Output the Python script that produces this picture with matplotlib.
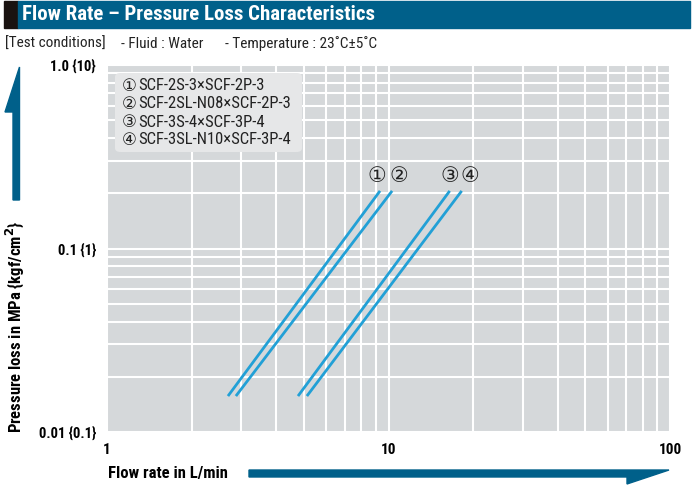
import numpy as np
import matplotlib
matplotlib.use('Agg')
import matplotlib.pyplot as plt
from matplotlib.patches import Rectangle, Polygon, FancyBboxPatch
from matplotlib.ticker import LogLocator, NullFormatter

# series: end points (flow L/min, pressure loss MPa)
labels = ['①', '②', '③', '④']
names = ['SCF-2S-3×SCF-2P-3', 'SCF-2SL-N08×SCF-2P-3',
         'SCF-3S-4×SCF-3P-4', 'SCF-3SL-N10×SCF-3P-4']
flow_lo = [2.69, 2.87, 4.77, 5.13]
flow_hi = [9.33, 10.3, 16.5, 18.2]
dp_lo = [0.0157, 0.0157, 0.0157, 0.0157]
dp_hi = [0.206, 0.206, 0.206, 0.206]

xticks = [1, 10, 100]
xticklabels = ['1', '10', '100']
yticks = [0.01, 0.1, 1.0]
yticklabels = ['0.01 {0.1}', '0.1 {1}', '1.0 {10}']

# offsets (points) of the circled numbers from the line ends
lab_dx = [-2, 5, 0, 6]

teal = '#00608a'
blue = '#22a0d6'
fam = ['Roboto Condensed', 'DejaVu Sans']
plt.rcParams['font.family'] = fam

fig = plt.figure(figsize=(6.96, 4.86), dpi=100)
W, H = 696, 486

def px(x, y):
    return x / W, 1 - y / H

# header bar
fig.patches.append(Rectangle(px(4, 28), 14 / W, 27 / H, transform=fig.transFigure,
                             color='#1a1311', zorder=0))
fig.patches.append(Rectangle(px(18, 28), 672 / W, 27 / H, transform=fig.transFigure,
                             color=teal, zorder=0))
fig.text(*px(22, 15), 'Flow Rate – Pressure Loss Characteristics', color='white',
         fontsize=15, fontweight='bold', va='center', ha='left')
for x0, s in [(5, '[Test conditions]'), (121, '- Fluid : Water'),
              (225, '- Temperature : 23˚C±5˚C')]:
    fig.text(*px(x0, 44), s, fontsize=11, va='center', ha='left', color='#222222')

ax = fig.add_axes([107 / W, 1 - 432 / H, 563 / W, 367 / H])
ax.set_facecolor('#d5d8da')
ax.set_xscale('log')
ax.set_yscale('log')
ax.set_xlim(1, 100)
ax.set_ylim(0.01, 1.0)
for s in ax.spines.values():
    s.set_visible(False)
ax.xaxis.set_minor_locator(LogLocator(base=10, subs=np.arange(2, 10)))
ax.yaxis.set_minor_locator(LogLocator(base=10, subs=np.arange(2, 10)))
ax.xaxis.set_minor_formatter(NullFormatter())
ax.yaxis.set_minor_formatter(NullFormatter())
ax.grid(True, which='both', color='white', linewidth=1.5)
ax.set_axisbelow(True)
ax.tick_params(which='both', length=0)
ax.set_xticks(xticks)
ax.set_xticklabels(xticklabels, fontweight='bold', fontsize=11)
ax.set_yticks(yticks)
ax.set_yticklabels(yticklabels, fontweight='bold', fontsize=10.5)
ax.tick_params(axis='x', pad=8)
ax.tick_params(axis='y', pad=8)

for i in range(4):
    ax.plot([flow_lo[i], flow_hi[i]], [dp_lo[i], dp_hi[i]], color=blue,
            linewidth=2.0, solid_capstyle='butt', zorder=3)
    ax.annotate(labels[i], (flow_hi[i], dp_hi[i]), xytext=(lab_dx[i], 11),
                textcoords='offset points', ha='center', va='center',
                fontsize=15, family=['DejaVu Sans'], color='#222222')

# legend box
box = FancyBboxPatch((115 / W, 1 - 152 / H), 187 / W, 79 / H,
                     boxstyle='round,pad=0,rounding_size=0.008',
                     transform=fig.transFigure, facecolor='#e6e7e8',
                     edgecolor='none', zorder=5)
fig.patches.append(box)
for i in range(4):
    fig.text(*px(122, 86 + i * 18), labels[i], fontsize=12, va='center',
             ha='left', color='#222222', zorder=6, family=['DejaVu Sans'])
    fig.text(*px(138, 86 + i * 18), names[i], fontsize=12, va='center',
             ha='left', color='#222222', zorder=6, family=fam)

# axis labels with arrows
fig.text(*px(15, 327), 'Pressure loss in MPa {kgf/cm$^\\mathbf{2}$}', rotation=90,
         fontsize=12, fontweight='bold', va='center', ha='center')
fig.patches.append(Polygon([px(13, 200), px(13, 112), px(5, 112), px(19.5, 67),
                            px(19.5, 200)], closed=True, transform=fig.transFigure,
                           color=teal))
fig.text(*px(108, 473), 'Flow rate in L/min', fontsize=12, fontweight='bold',
         va='center', ha='left')
fig.patches.append(Polygon([px(249, 470), px(669, 470), px(627, 484), px(627, 477),
                            px(249, 477)], closed=True, transform=fig.transFigure,
                           color=teal))

fig.savefig('out.png', dpi=100)
